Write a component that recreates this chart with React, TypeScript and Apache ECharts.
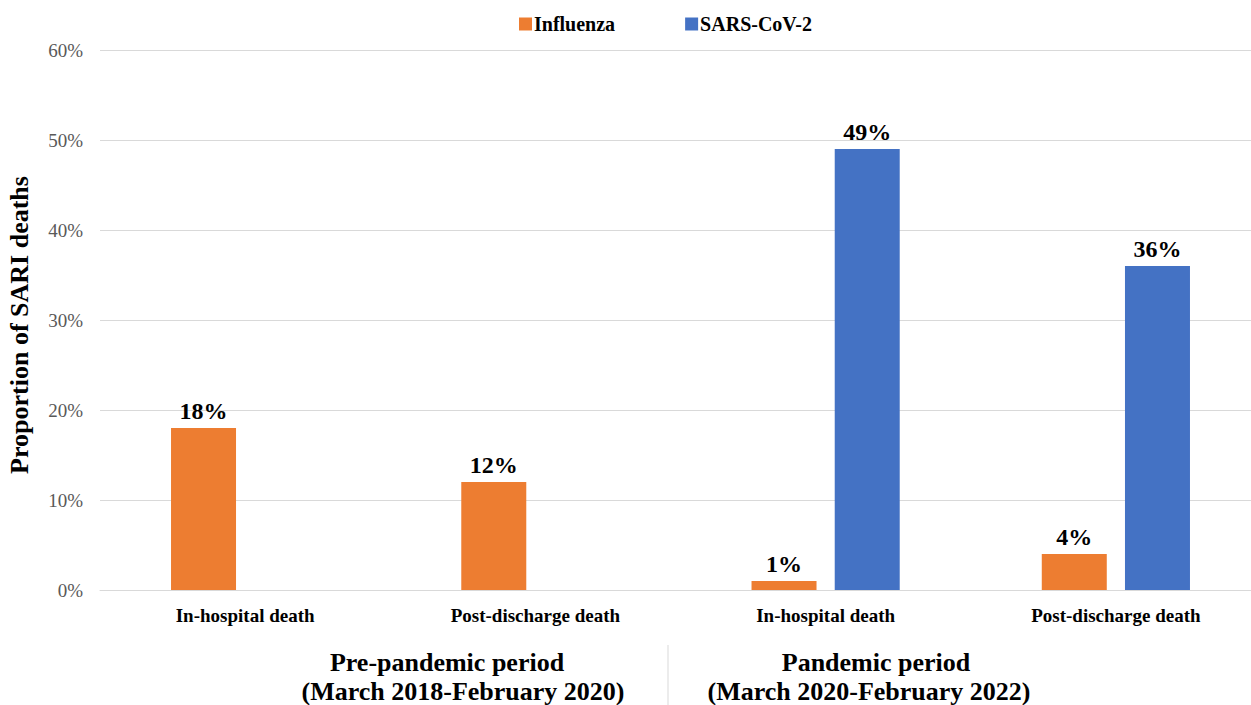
import React, { useEffect, useRef } from "react";
import * as echarts from "echarts";

const categories = ["In-hospital death", "Post-discharge death", "In-hospital death", "Post-discharge death"];
const influenza = [18, 12, 1, 4];
const sarsCov2: (number | null)[] = [null, null, 49, 36];
const yTicks = [0, 10, 20, 30, 40, 50, 60];
const periodTitles = ["Pre-pandemic period", "Pandemic period"];
const periodDates = ["(March 2018-February 2020)", "(March 2020-February 2022)"];

const FONT = "'Liberation Serif', 'Times New Roman', serif";

export default function App() {
  const ref = useRef<HTMLDivElement>(null);
  useEffect(() => {
    if (!ref.current) return;
    const chart = echarts.init(ref.current, undefined, { renderer: "svg" });
    const labelStyle = {
      show: true,
      position: "top" as const,
      distance: 5,
      formatter: (p: any) => (p.value == null ? "" : p.value + "%"),
      fontFamily: FONT,
      fontWeight: "bold" as const,
      fontSize: 24,
      color: "#000",
    };
    const periodStyle = {
      fontFamily: FONT,
      fontWeight: "bold" as const,
      fontSize: 26,
      fill: "#000",
      align: "center" as const,
      verticalAlign: "middle" as const,
    };
    chart.setOption({
      animation: false,
      backgroundColor: "#fff",
      textStyle: { fontFamily: FONT },
      legend: {
        top: 9,
        left: 514,
        itemWidth: 13,
        itemHeight: 13,
        itemGap: 70,
        icon: "rect",
        textStyle: { fontFamily: FONT, fontWeight: "bold", fontSize: 20, color: "#000", padding: [0, 0, 0, -3] },
        data: ["Influenza", "SARS-CoV-2"],
      },
      grid: { left: 100, top: 50, right: 0, bottom: 115, outerBoundsMode: "none", containLabel: false },
      xAxis: {
        type: "category",
        data: categories,
        axisLine: { lineStyle: { color: "#d9d9d9" } },
        axisTick: { show: false },
        axisLabel: {
          fontFamily: FONT,
          fontWeight: "bold",
          fontSize: 19,
          color: "#000",
          margin: 16,
          interval: 0,
        },
      },
      yAxis: {
        type: "value",
        min: 0,
        max: 60,
        interval: 10,
        name: "Proportion of SARI deaths",
        nameLocation: "middle",
        nameGap: 58,
        nameRotate: 90,
        nameTextStyle: { fontFamily: FONT, fontWeight: "bold", fontSize: 26, color: "#000", padding: [0, 10, 10, 0] },
        axisLine: { show: false },
        axisTick: { show: false },
        splitLine: { lineStyle: { color: "#d9d9d9" } },
        axisLabel: {
          fontFamily: FONT,
          fontSize: 19,
          color: "#595959",
          margin: 17,
          formatter: (v: number) => (yTicks.includes(v) ? v + "%" : ""),
        },
      },
      series: [
        {
          name: "Influenza",
          type: "bar",
          data: influenza,
          barWidth: 65,
          barGap: "28%",
          itemStyle: { color: "#ED7D31" },
          label: labelStyle,
        },
        {
          name: "SARS-CoV-2",
          type: "bar",
          data: sarsCov2,
          barWidth: 65,
          barGap: "28%",
          itemStyle: { color: "#4472C4" },
          label: labelStyle,
        },
      ],
      graphic: [
        { type: "text", x: 447, y: 662, style: { text: periodTitles[0], ...periodStyle } },
        { type: "text", x: 463, y: 691, style: { text: periodDates[0], ...periodStyle } },
        { type: "text", x: 876, y: 662, style: { text: periodTitles[1], ...periodStyle } },
        { type: "text", x: 869, y: 691, style: { text: periodDates[1], ...periodStyle } },
        {
          type: "line",
          shape: { x1: 668, y1: 645, x2: 668, y2: 705 },
          style: { stroke: "#d9d9d9", lineWidth: 1 },
        },
      ],
    });
    return () => chart.dispose();
  }, []);
  return (
    <div style={{ position: "fixed", left: 0, top: 0, width: 1251, height: 705, overflow: "hidden", background: "#fff" }}>
      <div ref={ref} style={{ position: "absolute", left: 0, top: 0, width: 1261, height: 705 }} />
    </div>
  );
}
